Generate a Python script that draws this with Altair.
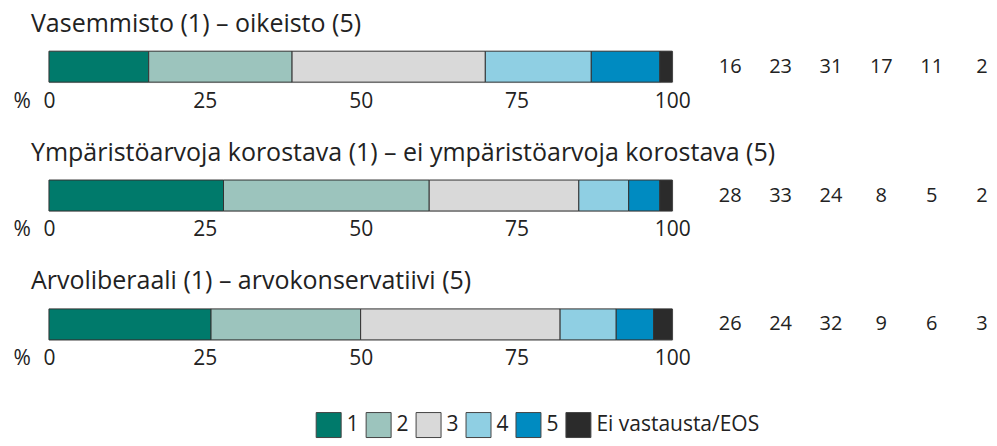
import altair as alt
import pandas as pd

rows = [
    "Vasemmisto (1) – oikeisto (5)",
    "Ympäristöarvoja korostava (1) – ei ympäristöarvoja korostava (5)",
    "Arvoliberaali (1) – arvokonservatiivi (5)",
]
categories = ["1", "2", "3", "4", "5", "Ei vastausta/EOS"]
colors = ["#007A6B", "#9CC4BD", "#D9D9D9", "#8FCFE3", "#008BC1", "#2B2B2B"]
values_row1 = [16, 23, 31, 17, 11, 2]
values_row2 = [28, 33, 24, 8, 5, 2]
values_row3 = [26, 24, 32, 9, 6, 3]
tick_values = [0, 25, 50, 75, 100]

all_values = [values_row1, values_row2, values_row3]
records = []
for r, vals in zip(rows, all_values):
    for i, (c, v) in enumerate(zip(categories, vals)):
        records.append({"row": r, "cat": c, "idx": i, "value": v})
df = pd.DataFrame(records)

FONT = "Open Sans"
TXT = "#222222"

color_scale = alt.Scale(domain=categories, range=colors)
legend = alt.Legend(
    title=None,
    orient="none",
    legendX=267,
    legendY=361,
    direction="horizontal",
    symbolType="square",
    symbolSize=625,
    symbolStrokeColor="#444444",
    symbolStrokeWidth=1,
    symbolOpacity=1,
    labelFontSize=21,
    labelFont=FONT,
    labelColor=TXT,
    labelOffset=5,
    labelLimit=400,
    columnPadding=4,
)


def row_chart(r):
    base = alt.Chart(df).transform_filter(alt.datum.row == r)
    yenc = alt.Y("row:N", axis=None, scale=alt.Scale(paddingInner=0, paddingOuter=0))
    bars = base.mark_bar(stroke="#333333", strokeWidth=1).encode(
        x=alt.X(
            "value:Q",
            stack="zero",
            scale=alt.Scale(domain=[0, 100], nice=False),
            axis=alt.Axis(
                values=tick_values,
                domain=False,
                ticks=False,
                grid=False,
                labelFlush=False,
                labelFontSize=21,
                labelFont=FONT,
                labelColor=TXT,
                labelPadding=8,
                title="%",
                titleFont=FONT,
                titleFontSize=21,
                titleFontWeight="normal",
                titleColor=TXT,
                titleAngle=0,
                titleAlign="left",
                titleBaseline="top",
                titleX=-36,
                titleY=8,
            ),
        ),
        y=yenc,
        color=alt.Color("cat:N", scale=color_scale, legend=legend),
        order=alt.Order("idx:Q"),
    )
    text = base.mark_text(fontSize=20, font=FONT, color=TXT).encode(
        x=alt.X(
            "cat:N",
            sort=categories,
            scale=alt.Scale(type="point", domain=categories, range=[682, 934], padding=0),
            axis=None,
        ),
        y=yenc,
        text="value:Q",
    )
    return (
        alt.layer(bars, text)
        .resolve_scale(x="independent")
        .properties(
            width=624,
            height=31,
            title=alt.TitleParams(
                r,
                anchor="start",
                frame="group",
                dx=-18,
                offset=14,
                fontSize=25,
                font=FONT,
                fontWeight="normal",
                color=TXT,
            ),
        )
    )


chart = (
    alt.vconcat(row_chart(rows[0]), row_chart(rows[1]), row_chart(rows[2]), spacing=28)
    .resolve_scale(color="shared")
    .properties(padding={"left": 4, "top": 3, "right": 0, "bottom": 0})
    .configure_view(stroke=None)
    .configure(background="white")
)

chart.save("out.html", embed_options={"renderer": "svg", "actions": False})
